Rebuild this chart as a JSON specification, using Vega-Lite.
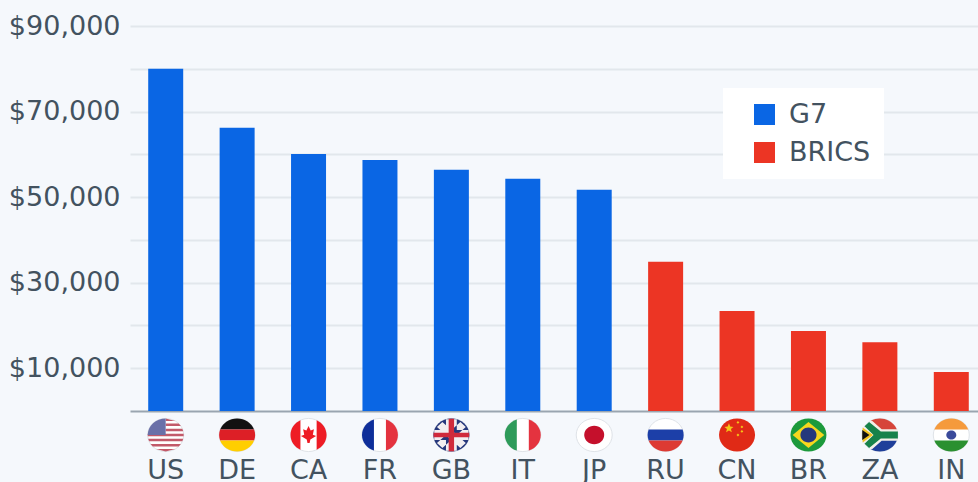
{"$schema":"https://vega.github.io/schema/vega-lite/v6.json","width":848,"height":385,"autosize":"none","padding":{"left":130,"top":26,"right":0,"bottom":71},"background":"#f5f8fc","config":{"view":{"stroke":null},"font":"DejaVu Sans"},
"encoding":{"x":{"field":"c","type":"nominal","sort":null,"title":null,"scale":{"domain":["US","DE","CA","FR","GB","IT","JP","RU","CN","BR","ZA","IN"],"range":[0,857],"paddingInner":0.51,"paddingOuter":0.255},"axis":{"labelAngle":0,"labelFont":"DejaVu Sans","labelFontSize":27,"labelColor":"#43525f","labelPadding":67,"labelBaseline":"alphabetic","ticks":false,"domainColor":"#9aa5b0","domainWidth":2,"grid":false,"labelOverlap":false}}},
"layer":[
{"data":{"values":[{"c":"US","v":80000,"g":"G7"},{"c":"DE","v":66200,"g":"G7"},{"c":"CA","v":60100,"g":"G7"},{"c":"FR","v":58700,"g":"G7"},{"c":"GB","v":56400,"g":"G7"},{"c":"IT","v":54300,"g":"G7"},{"c":"JP","v":51700,"g":"G7"},{"c":"RU","v":34900,"g":"BRICS"},{"c":"CN","v":23400,"g":"BRICS"},{"c":"BR","v":18700,"g":"BRICS"},{"c":"ZA","v":16100,"g":"BRICS"},{"c":"IN","v":9100,"g":"BRICS"}]},"mark":{"type":"bar"},
"encoding":{"y":{"field":"v","type":"quantitative","title":null,"scale":{"domain":[0,90000],"nice":false},"axis":{"values":[10000,20000,30000,40000,50000,60000,70000,80000,90000],"labelExpr":"(datum.value/10000)%2==1?format(datum.value,'$,'):''","labelFont":"DejaVu Sans","labelFontSize":27,"labelColor":"#43525f","labelPadding":10,"ticks":false,"domain":false,"grid":true,"gridColor":"#e2e7ec","gridWidth":2}},
"color":{"field":"g","type":"nominal","scale":{"domain":["G7","BRICS"],"range":["#0a66e4","#ec3524"]},"legend":{"title":null,"orient":"none","legendX":593,"legendY":62,"fillColor":"#ffffff","padding":13,"symbolType":"square","symbolSize":441,"symbolOffset":15,"symbolStrokeWidth":0,"labelFont":"DejaVu Sans","labelFontSize":27,"labelColor":"#43525f","labelOffset":11,"rowPadding":10,"labelExpr":"datum.label+'\u00a0\u00a0\u00a0\u00a0\u00a0\u00a0'"}}}},
{"data":{"values":[{"c":"US"},{"c":"DE"},{"c":"CA"},{"c":"FR"},{"c":"GB"},{"c":"IT"},{"c":"JP"},{"c":"RU"},{"c":"IN"},{"c":"ZA"}]},"mark":{"type":"point","shape":"M-1,0A1,.92 0 1 1 1,0A1,.92 0 1 1 -1,0Z","size":1296,"filled":true,"opacity":1,"color":"#ffffff","stroke":"#dfe3e8","strokeWidth":1,"yOffset":24},"encoding":{"y":{"datum":0}}},
{"data":{"values":[{"c":"US"}]},"mark":{"type":"point","shape":"M0,-.92L.534,-.778L0,-.778ZM0,-.637L.722,-.637L.843,-.495L0,-.495ZM0,-.354L.923,-.354L.973,-.212L0,-.212ZM-.997,-.071L.997,-.071L.997,.071L-.997,.071ZM-.973,.212L.973,.212L.923,.354L-.923,.354ZM-.843,.495L.843,.495L.722,.637L-.722,.637ZM-.534,.778L.534,.778L0,.92Z","size":1296,"filled":true,"opacity":1,"color":"#c25a6a","yOffset":24},"encoding":{"y":{"datum":0}}},
{"data":{"values":[{"c":"US"}]},"mark":{"type":"point","shape":"M-1,0A1,.92 0 0 1 0,-.92L0,0Z","size":1296,"filled":true,"opacity":1,"color":"#6a70a8","yOffset":24},"encoding":{"y":{"datum":0}}},
{"data":{"values":[{"c":"DE"}]},"mark":{"type":"point","shape":"M-.943,-.307A1,.92 0 0 1 .943,-.307Z","size":1296,"filled":true,"opacity":1,"color":"#111111","yOffset":24},"encoding":{"y":{"datum":0}}},
{"data":{"values":[{"c":"IN"}]},"mark":{"type":"point","shape":"M-.943,-.307A1,.92 0 0 1 .943,-.307Z","size":1296,"filled":true,"opacity":1,"color":"#f59a3c","yOffset":24},"encoding":{"y":{"datum":0}}},
{"data":{"values":[{"c":"DE"}]},"mark":{"type":"point","shape":"M-.943,-.307L.943,-.307A1,.92 0 0 1 .943,.307L-.943,.307A1,.92 0 0 1 -.943,-.307Z","size":1296,"filled":true,"opacity":1,"color":"#dd1f26","yOffset":24},"encoding":{"y":{"datum":0}}},
{"data":{"values":[{"c":"RU"}]},"mark":{"type":"point","shape":"M-.943,-.307L.943,-.307A1,.92 0 0 1 .943,.307L-.943,.307A1,.92 0 0 1 -.943,-.307Z","size":1296,"filled":true,"opacity":1,"color":"#1c3fa8","yOffset":24},"encoding":{"y":{"datum":0}}},
{"data":{"values":[{"c":"DE"}]},"mark":{"type":"point","shape":"M-.943,.307A1,.92 0 0 0 .943,.307Z","size":1296,"filled":true,"opacity":1,"color":"#ffce00","yOffset":24},"encoding":{"y":{"datum":0}}},
{"data":{"values":[{"c":"RU"}]},"mark":{"type":"point","shape":"M-.943,.307A1,.92 0 0 0 .943,.307Z","size":1296,"filled":true,"opacity":1,"color":"#dd3a33","yOffset":24},"encoding":{"y":{"datum":0}}},
{"data":{"values":[{"c":"IN"}]},"mark":{"type":"point","shape":"M-.943,.307A1,.92 0 0 0 .943,.307Z","size":1296,"filled":true,"opacity":1,"color":"#2a9030","yOffset":24},"encoding":{"y":{"datum":0}}},
{"data":{"values":[{"c":"IN"}]},"mark":{"type":"point","shape":"M-1,0A1,.92 0 1 1 1,0A1,.92 0 1 1 -1,0Z","size":100,"filled":true,"opacity":1,"color":"#3a4a9a","yOffset":24},"encoding":{"y":{"datum":0}}},
{"data":{"values":[{"c":"FR"}]},"mark":{"type":"point","shape":"M-.333,-.867A1,.92 0 0 0 -.333,.867Z","size":1296,"filled":true,"opacity":1,"color":"#0f2f9a","yOffset":24},"encoding":{"y":{"datum":0}}},
{"data":{"values":[{"c":"IT"}]},"mark":{"type":"point","shape":"M-.333,-.867A1,.92 0 0 0 -.333,.867Z","size":1296,"filled":true,"opacity":1,"color":"#2e9b5a","yOffset":24},"encoding":{"y":{"datum":0}}},
{"data":{"values":[{"c":"FR"},{"c":"IT"}]},"mark":{"type":"point","shape":"M.333,-.867A1,.92 0 0 1 .333,.867Z","size":1296,"filled":true,"opacity":1,"color":"#e4333f","yOffset":24},"encoding":{"y":{"datum":0}}},
{"data":{"values":[{"c":"CA"}]},"mark":{"type":"point","shape":"M-.45,-.822A1,.92 0 0 0 -.45,.822ZM.45,-.822A1,.92 0 0 1 .45,.822ZM0,-.5L.12,-.25L.3,-.32L.24,-.02L.42,.05L.1,.25L.06,.45L-.06,.45L-.1,.25L-.42,.05L-.24,-.02L-.3,-.32L-.12,-.25Z","size":1296,"filled":true,"opacity":1,"color":"#ee1c25","yOffset":24},"encoding":{"y":{"datum":0}}},
{"data":{"values":[{"c":"GB"}]},"mark":{"type":"point","shape":"M-1,0A1,.92 0 1 1 1,0A1,.92 0 1 1 -1,0Z","size":1296,"filled":true,"opacity":1,"color":"#26387c","yOffset":24},"encoding":{"y":{"datum":0}}},
{"data":{"values":[{"c":"GB"}]},"mark":{"type":"point","shape":"M-.8,-.45L-.5,-.72L.8,.45L.5,.72ZM.8,-.45L.5,-.72L-.8,.45L-.5,.72ZM-.3,-.878L.3,-.878L.3,-.28L.952,-.28L.952,.28L.3,.28L.3,.878L-.3,.878L-.3,.28L-.952,.28L-.952,-.28L-.3,-.28Z","size":1296,"filled":true,"opacity":1,"color":"#f2eef0","yOffset":24},"encoding":{"y":{"datum":0}}},
{"data":{"values":[{"c":"GB"}]},"mark":{"type":"point","shape":"M-.15,-.908L.15,-.908L.15,-.13L.99,-.13L.99,.13L.15,.13L.15,.908L-.15,.908L-.15,.13L-.99,.13L-.99,-.13L-.15,-.13Z","size":1296,"filled":true,"opacity":1,"color":"#d02a3c","yOffset":24},"encoding":{"y":{"datum":0}}},
{"data":{"values":[{"c":"JP"}]},"mark":{"type":"point","shape":"M-1,0A1,.92 0 1 1 1,0A1,.92 0 1 1 -1,0Z","size":400,"filled":true,"opacity":1,"color":"#c5102c","yOffset":24},"encoding":{"y":{"datum":0}}},
{"data":{"values":[{"c":"CN"}]},"mark":{"type":"point","shape":"M-1,0A1,.92 0 1 1 1,0A1,.92 0 1 1 -1,0Z","size":1296,"filled":true,"opacity":1,"color":"#e02a16","yOffset":24},"encoding":{"y":{"datum":0}}},
{"data":{"values":[{"c":"CN"}]},"mark":{"type":"point","shape":"M-.45,-.65L-.38,-.47L-.2,-.45L-.34,-.33L-.29,-.15L-.45,-.25L-.61,-.15L-.56,-.33L-.7,-.45L-.52,-.47ZM.05,-.78L.13,-.7L.05,-.62L-.03,-.7ZM.27,-.53L.35,-.45L.27,-.37L.19,-.45ZM.27,-.28L.35,-.2L.27,-.12L.19,-.2ZM.05,-.08L.13,0L.05,.08L-.03,0Z","size":1296,"filled":true,"opacity":1,"color":"#f5c518","yOffset":24},"encoding":{"y":{"datum":0}}},
{"data":{"values":[{"c":"BR"}]},"mark":{"type":"point","shape":"M-1,0A1,.92 0 1 1 1,0A1,.92 0 1 1 -1,0Z","size":1296,"filled":true,"opacity":1,"color":"#1c9a3c","yOffset":24},"encoding":{"y":{"datum":0}}},
{"data":{"values":[{"c":"BR"}]},"mark":{"type":"point","shape":"M0,-.72L.88,0L0,.72L-.88,0Z","size":1296,"filled":true,"opacity":1,"color":"#f6d71e","yOffset":24},"encoding":{"y":{"datum":0}}},
{"data":{"values":[{"c":"BR"}]},"mark":{"type":"point","shape":"M-1,0A1,.92 0 1 1 1,0A1,.92 0 1 1 -1,0Z","size":260,"filled":true,"opacity":1,"color":"#26387c","yOffset":24},"encoding":{"y":{"datum":0}}},
{"data":{"values":[{"c":"ZA"}]},"mark":{"type":"point","shape":"M-.5,-.797A1,.92 0 0 1 1,0L0,0Z","size":1296,"filled":true,"opacity":1,"color":"#d6453a","yOffset":24},"encoding":{"y":{"datum":0}}},
{"data":{"values":[{"c":"ZA"}]},"mark":{"type":"point","shape":"M-.5,.797A1,.92 0 0 0 1,0L0,0Z","size":1296,"filled":true,"opacity":1,"color":"#1f3f9a","yOffset":24},"encoding":{"y":{"datum":0}}},
{"data":{"values":[{"c":"ZA"}]},"mark":{"type":"point","shape":"M1,-.32L.1,-.32L-.45,-.8L-.95,-.32L-.5,0L-.95,.32L-.45,.8L.1,.32L1,.32Z","size":1296,"filled":true,"opacity":1,"color":"#f2f0e8","yOffset":24},"encoding":{"y":{"datum":0}}},
{"data":{"values":[{"c":"ZA"}]},"mark":{"type":"point","shape":"M1,-.2L.05,-.2L-.6,-.72L-.85,-.48L-.35,0L-.85,.48L-.6,.72L.05,.2L1,.2Z","size":1296,"filled":true,"opacity":1,"color":"#16824a","yOffset":24},"encoding":{"y":{"datum":0}}},
{"data":{"values":[{"c":"ZA"}]},"mark":{"type":"point","shape":"M-.96,-.42L-.38,0L-.96,.42Z","size":1296,"filled":true,"opacity":1,"color":"#f2c320","yOffset":24},"encoding":{"y":{"datum":0}}},
{"data":{"values":[{"c":"ZA"}]},"mark":{"type":"point","shape":"M-.98,-.28L-.58,0L-.98,.28Z","size":1296,"filled":true,"opacity":1,"color":"#111111","yOffset":24},"encoding":{"y":{"datum":0}}}
]}
